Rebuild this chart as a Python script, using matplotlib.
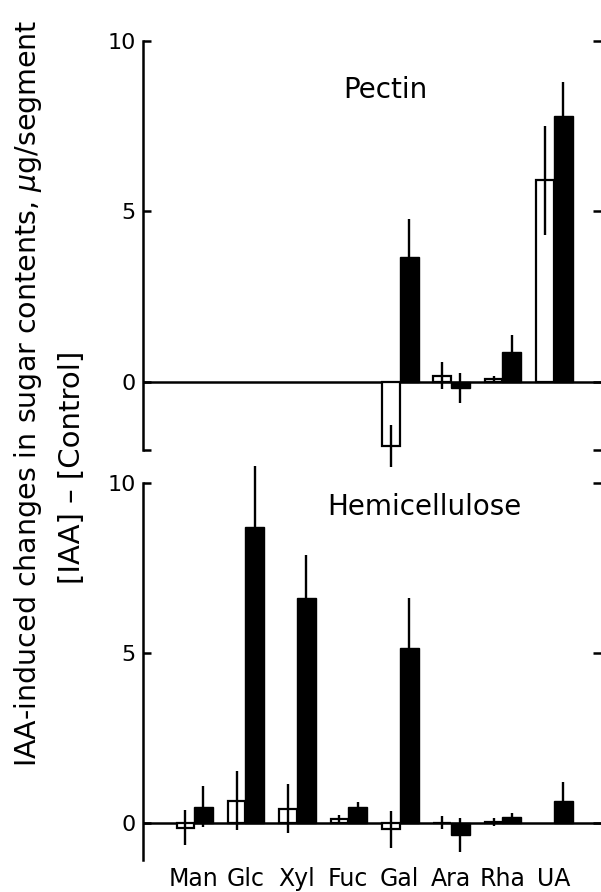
import matplotlib.pyplot as plt
import numpy as np

nan = np.nan
sugars = ['Man', 'Glc', 'Xyl', 'Fuc', 'Gal', 'Ara', 'Rha', 'UA']

# pectin fraction (nan = no bar drawn)
pectin_open = [nan, nan, nan, nan, -1.88, 0.18, 0.08, 5.92]
pectin_open_err = [nan, nan, nan, nan, 0.62, 0.4, 0.1, 1.6]
pectin_filled = [nan, nan, nan, nan, 3.67, -0.18, 0.88, 7.8]
pectin_filled_err = [nan, nan, nan, nan, 1.1, 0.44, 0.5, 1.0]

# hemicellulose fraction
hemi_open = [-0.15, 0.65, 0.41, 0.12, -0.2, 0.0, 0.03, nan]
hemi_open_err = [0.52, 0.88, 0.72, 0.1, 0.55, 0.2, 0.12, nan]
hemi_filled = [0.47, 8.7, 6.6, 0.47, 5.13, -0.35, 0.17, 0.65]
hemi_filled_err = [0.6, 1.8, 1.28, 0.15, 1.47, 0.5, 0.12, 0.55]

plt.rcParams['font.family'] = ['DejaVu Sans']

fig = plt.figure(figsize=(6.01, 8.92), dpi=100)
ax1 = fig.add_axes([143/601, 1-450/892, 458/601, 409/892])
ax2 = fig.add_axes([143/601, 1-860/892, 458/601, 377/892])


def draw(ax, opn, opn_err, fil, fil_err, ylim, yticks, ylabels):
    x = np.arange(len(sugars))
    ax.axhline(0, color='black', lw=1.8, zorder=1)
    ax.bar(x - 0.17, opn, 0.34, color='white', edgecolor='black', lw=1.6, zorder=2)
    ax.bar(x + 0.185, fil, 0.37, color='black', edgecolor='black', lw=1.0, zorder=2)
    for xs, v, e in [(x - 0.17, opn, opn_err), (x + 0.185, fil, fil_err)]:
        eb = ax.errorbar(xs, v, yerr=e, fmt='none', ecolor='black',
                         elinewidth=1.7, capsize=0, zorder=3)
        for lc in eb.lines[2]:
            lc.set_clip_on(False)
    ax.set_xlim(-0.992, 7.92)
    ax.set_ylim(*ylim)
    ax.set_yticks(yticks, ylabels)
    for s in ['top', 'right', 'bottom']:
        ax.spines[s].set_visible(False)
    ax.spines['left'].set_linewidth(1.8)
    ax.tick_params(axis='y', direction='in', length=6, width=1.8,
                   right=True, labelsize=16, pad=5)


draw(ax1, pectin_open, pectin_open_err, pectin_filled, pectin_filled_err,
     (-2, 10), [-2, 0, 5, 10], ['', '0', '5', '10'])
draw(ax2, hemi_open, hemi_open_err, hemi_filled, hemi_filled_err,
     (-1.1, 10), [0, 5, 10], ['0', '5', '10'])

ax1.set_xticks([])
ax2.set_xticks(np.arange(len(sugars)), sugars)
ax2.tick_params(axis='x', length=0, pad=5, labelsize=17)

ax1.text(0.53, 0.88, 'Pectin', transform=ax1.transAxes, ha='center', va='center', fontsize=20)
ax2.text(0.615, 0.936, 'Hemicellulose', transform=ax2.transAxes, ha='center', va='center', fontsize=20)

fig.text(0.047, 0.559, 'IAA-induced changes in sugar contents, $\\mu$g/segment',
         rotation=90, ha='center', va='center', fontsize=20.5)
fig.text(0.12, 0.4765, '[IAA] – [Control]', rotation=90, ha='center', va='center', fontsize=21)

fig.savefig('out.png', dpi=100)
